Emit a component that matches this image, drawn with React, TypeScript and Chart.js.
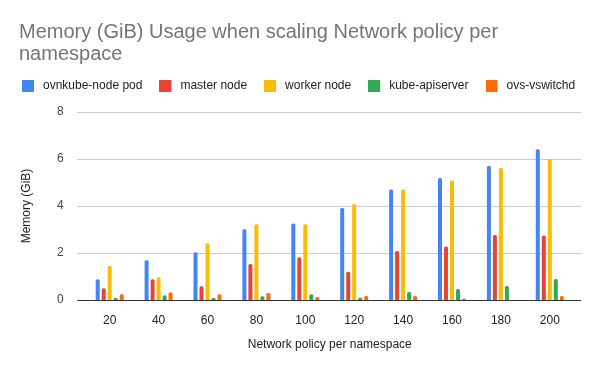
import React, { useEffect, useRef } from "react";
import { Chart, registerables } from "chart.js";

Chart.register(...registerables);

const categories = ["20", "40", "60", "80", "100", "120", "140", "160", "180", "200"];
const seriesNames = ["ovnkube-node pod", "master node", "worker node", "kube-apiserver", "ovs-vswitchd"];
const ovnkubeNodePod = [0.88, 1.69, 2.03, 3.01, 3.26, 3.92, 4.7, 5.19, 5.7, 6.42];
const masterNode = [0.5, 0.88, 0.58, 1.53, 1.82, 1.2, 2.08, 2.28, 2.77, 2.74];
const workerNode = [1.45, 0.97, 2.41, 3.22, 3.22, 4.09, 4.7, 5.08, 5.62, 6.0];
const kubeApiserver = [0.08, 0.2, 0.08, 0.16, 0.24, 0.1, 0.34, 0.47, 0.6, 0.89];
const ovsVswitchd = [0.25, 0.33, 0.25, 0.3, 0.13, 0.17, 0.17, 0.05, null, 0.17];
const yTicks = [0, 2, 4, 6, 8];
const colors = ["#4285F4", "#EA4335", "#FBBC04", "#34A853", "#FF6D01"];

const FONT = "Arial, 'Liberation Sans', sans-serif";

function legendSwatch(color: string): HTMLCanvasElement {
  const c = document.createElement("canvas");
  c.width = 15;
  c.height = 12;
  const ctx = c.getContext("2d")!;
  ctx.fillStyle = color;
  ctx.fillRect(0, 0, 12, 12);
  return c;
}

const layoutFix = {
  id: "layoutFix",
  beforeLayout(chart: any) {
    const lg = chart.legend;
    if (lg && !lg._patched) {
      const orig = lg.update.bind(lg);
      lg.update = function (maxWidth: number, maxHeight: number, margins: any) {
        orig(2000, maxHeight, margins);
        this.width = maxWidth;
        this.height = 47;
      };
      lg._patched = true;
    }
  },
  afterLayout(chart: any) {
    if (chart.titleBlock) {
      chart.titleBlock.left = 19;
      chart.titleBlock.right = 600;
    }
    if (chart.legend) {
      chart.legend.right = 600;
      chart.legend.top -= 2;
    }
  },
};

const gridPlugin = {
  id: "customGrid",
  beforeDatasetsDraw(chart: any) {
    const { ctx, chartArea, scales } = chart;
    ctx.save();
    ctx.strokeStyle = "#cccccc";
    ctx.lineWidth = 1;
    for (const v of yTicks) {
      if (v === 0) continue;
      const y = Math.round(scales.y.getPixelForValue(v)) + 0.5;
      ctx.beginPath();
      ctx.moveTo(chartArea.left - 8, y);
      ctx.lineTo(chartArea.right + 7, y);
      ctx.stroke();
    }
    ctx.restore();
  },
  afterDatasetsDraw(chart: any) {
    const { ctx, chartArea, scales } = chart;
    ctx.save();
    ctx.strokeStyle = "#333333";
    ctx.lineWidth = 1;
    const y = Math.round(scales.y.getPixelForValue(0)) + 0.5;
    ctx.beginPath();
    ctx.moveTo(chartArea.left - 8, y);
    ctx.lineTo(chartArea.right + 7, y);
    ctx.stroke();
    ctx.restore();
  },
};

export default function App() {
  const ref = useRef<HTMLCanvasElement | null>(null);

  useEffect(() => {
    document.body.style.margin = "0";
    if (!ref.current) return;
    Chart.defaults.font.family = FONT;
    const series = [ovnkubeNodePod, masterNode, workerNode, kubeApiserver, ovsVswitchd];
    const swatches = colors.map(legendSwatch);
    const chart = new Chart(ref.current, {
      type: "bar",
      data: {
        labels: categories,
        datasets: series.map((d, i) => ({
          label: seriesNames[i],
          data: d,
          backgroundColor: colors[i],
          borderRadius: { topLeft: 1.5, topRight: 1.5, bottomLeft: 0, bottomRight: 0 },
          borderSkipped: false,
          categoryPercentage: 0.6135,
          barPercentage: 0.667,
        })),
      },
      options: {
        responsive: false,
        animation: false,
        layout: { padding: { left: 5, right: 25.75, top: 0, bottom: 0 } },
        plugins: {
          tooltip: { enabled: false },
          title: {
            display: true,
            text: ["Memory (GiB) Usage when scaling Network policy per", "namespace"],
            align: "start",
            color: "#757575",
            font: { size: 20, weight: "normal", family: FONT, lineHeight: 1.1 },
            padding: { top: 21, bottom: 0 },
          },
          legend: {
            display: true,
            position: "top",
            align: "start",
            labels: {
              usePointStyle: true,
              pointStyleWidth: 15,
              boxHeight: 12,
              padding: 17,
              color: "#222222",
              font: { size: 12, family: FONT },
              generateLabels: (chart: any) => {
                const items = Chart.defaults.plugins.legend.labels.generateLabels(chart);
                return items.map((it: any, i: number) => ({ ...it, pointStyle: swatches[i] }));
              },
            },
          },
        },
        scales: {
          x: {
            grid: { display: false },
            border: { display: false },
            ticks: { color: "#222222", font: { size: 12 }, padding: 5, maxRotation: 0 },
            title: {
              display: true,
              text: "Network policy per namespace",
              color: "#222222",
              font: { size: 12 },
              padding: { top: 0, bottom: 19 },
            },
            afterFit: (s: any) => {
              s.height = 71;
            },
          },
          y: {
            min: 0,
            max: 8,
            grid: { display: false },
            border: { display: false },
            ticks: { stepSize: 2, color: "#444444", font: { size: 12 }, padding: 13.5 },
            title: {
              display: true,
              text: "Memory (GiB)",
              color: "#222222",
              font: { size: 12 },
              padding: { top: 14, bottom: 0 },
            },
            afterFit: (s: any) => {
              s.width = 80.25;
            },
          },
        },
      },
      plugins: [layoutFix, gridPlugin],
    } as any);
    return () => chart.destroy();
  }, []);

  return (
    <div style={{ width: 600, height: 371, background: "#fff" }}>
      <canvas ref={ref} width={600} height={371} />
    </div>
  );
}
